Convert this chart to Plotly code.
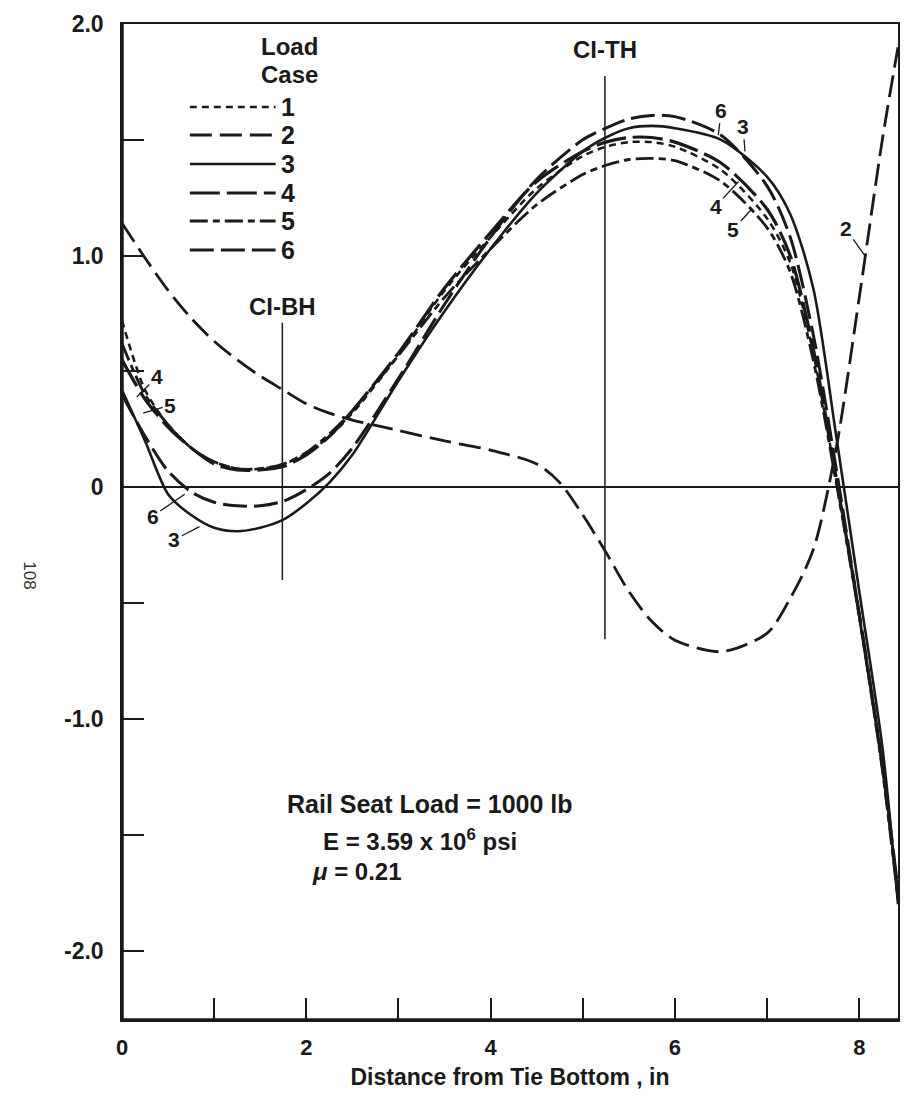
import plotly.graph_objects as go

# ---------------- data ----------------
x_common = [0, 0.25, 0.5, 0.75, 1.0, 1.25, 1.5, 1.75, 2.0, 2.25, 2.5, 3.0, 3.5,
            4.0, 4.5, 5.0, 5.25, 5.5, 5.75, 6.0, 6.5, 7.0, 7.25, 7.5, 7.75,
            8.0, 8.25, 8.42]

case1 = [0.72, 0.42, 0.27, 0.17, 0.11, 0.08, 0.08, 0.10, 0.145, 0.22, 0.32, 0.57, 0.85,
         1.08, 1.29, 1.43, 1.47, 1.49, 1.49, 1.47, 1.37, 1.16, 0.97, 0.58, 0.03,
         -0.55, -1.20, -1.76]
case3 = [0.42, 0.20, -0.03, -0.12, -0.175, -0.19, -0.175, -0.14, -0.07, 0.02, 0.14, 0.46, 0.76,
         1.03, 1.27, 1.45, 1.51, 1.55, 1.56, 1.55, 1.50, 1.34, 1.18, 0.86, 0.22,
         -0.45, -1.12, -1.80]
case4 = [0.55, 0.38, 0.26, 0.17, 0.10, 0.075, 0.075, 0.09, 0.14, 0.22, 0.33, 0.58, 0.86,
         1.10, 1.32, 1.45, 1.49, 1.51, 1.51, 1.49, 1.40, 1.20, 1.00, 0.60, 0.04,
         -0.55, -1.20, -1.74]
case5 = [0.62, 0.40, 0.27, 0.17, 0.11, 0.08, 0.08, 0.10, 0.15, 0.23, 0.33, 0.57, 0.82,
         1.03, 1.22, 1.35, 1.39, 1.415, 1.42, 1.41, 1.32, 1.12, 0.93, 0.55, 0.02,
         -0.56, -1.22, -1.78]
case6 = [0.40, 0.22, 0.07, -0.02, -0.065, -0.08, -0.08, -0.06, -0.01, 0.06, 0.17, 0.47, 0.79,
         1.08, 1.33, 1.50, 1.55, 1.59, 1.605, 1.60, 1.52, 1.30, 1.08, 0.66, 0.08,
         -0.55, -1.20, -1.76]

x_case2 = [0, 0.25, 0.5, 0.75, 1.0, 1.25, 1.5, 1.75, 2.0, 2.25, 2.5, 3.0, 3.5, 4.0,
           4.5, 4.75, 5.0, 5.25, 5.5, 5.75, 6.0, 6.5, 7.0, 7.25, 7.5, 7.75, 8.0,
           8.25, 8.42]
case2 = [1.14, 0.99, 0.85, 0.73, 0.63, 0.55, 0.48, 0.42, 0.36, 0.32, 0.29, 0.245, 0.20, 0.16,
         0.10, 0.02, -0.12, -0.28, -0.45, -0.58, -0.66, -0.71, -0.63, -0.48, -0.27, 0.17, 0.82,
         1.50, 1.90]

case_names = ["1", "2", "3", "4", "5", "6"]
section_x = [1.74, 5.24]           # CI-BH, CI-TH
section_names = ["CI-BH", "CI-TH"]
section_top = [0.71, 1.775]
section_bottom = [-0.40, -0.656]
section_label_y = [0.78, 1.89]

x_tickvals = [0, 2, 4, 6, 8]
x_ticktext = ["0", "2", "4", "6", "8"]
y_tickvals = [-2.0, -1.0, 0, 1.0, 2.0]
y_ticktext = ["-2.0", "-1.0", "0", "1.0", "2.0"]

# ---------------- styling ----------------
FONT = "Liberation Sans, Arial, sans-serif"
INK = "#1a1a1a"
def f(size, bold=True, color=INK):
    return dict(family=FONT, size=size, color=color, weight="bold" if bold else "normal")

styles = {
    "1": dict(dash="7px,5px", width=2.5),
    "2": dict(dash="22px,8px", width=2.8),
    "3": dict(dash="solid", width=2.6),
    "4": dict(dash="30px,7px", width=3.2),
    "5": dict(dash="18px,5px,7px,5px", width=2.8),
    "6": dict(dash="24px,7px", width=3.0),
}
series = {
    "1": (x_common, case1),
    "2": (x_case2, case2),
    "3": (x_common, case3),
    "4": (x_common, case4),
    "5": (x_common, case5),
    "6": (x_common, case6),
}

fig = go.Figure()
for name in case_names:
    xs, ys = series[name]
    fig.add_trace(go.Scatter(
        x=xs, y=ys, mode="lines", name=name, showlegend=False,
        line=dict(color=INK, shape="spline", smoothing=0.8, **styles[name]),
    ))

shapes = []
annotations = []

# section reference lines
for sx, st, sb, sn, ly in zip(section_x, section_top, section_bottom, section_names, section_label_y):
    shapes.append(dict(type="line", xref="x", yref="y", x0=sx, x1=sx, y0=sb, y1=st,
                       line=dict(color=INK, width=1.5)))
    annotations.append(dict(x=sx, y=ly, xref="x", yref="y", text=sn,
                            showarrow=False, yanchor="middle", xanchor="center",
                            font=f(24)))

# thick left & bottom axis lines
shapes.append(dict(type="line", xref="x domain", yref="y domain", x0=0, x1=0, y0=0, y1=1,
                   line=dict(color=INK, width=3.5)))
shapes.append(dict(type="line", xref="x domain", yref="y domain", x0=0, x1=1, y0=0, y1=0,
                   line=dict(color=INK, width=3.5)))

# page-pixel helpers (plot area: x 122..900, y 24..1020 in the page)
W_PLOT = 778.0
H_PLOT = 996.0
def px_x(p):
    return (p - 122) / W_PLOT
def px_y(p):
    return (1020 - p) / H_PLOT

# manual legend
legend_rows = [107, 135, 164, 193, 221, 250]
for name, row in zip(case_names, legend_rows):
    shapes.append(dict(type="line", xref="paper", yref="paper",
                       x0=px_x(190), x1=px_x(276), y0=px_y(row), y1=px_y(row),
                       line=dict(color=INK, width=styles[name]["width"],
                                 dash=styles[name]["dash"])))
    annotations.append(dict(x=px_x(279), y=px_y(row), xref="paper", yref="paper",
                            text=name, showarrow=False, xanchor="left", yanchor="middle",
                            font=f(25)))
for txt, row in zip(["Load", "Case"], [46, 75]):
    annotations.append(dict(x=px_x(290), y=px_y(row), xref="paper", yref="paper",
                            text=txt, showarrow=False, xanchor="center",
                            yanchor="middle", font=f(24)))

# curve labels with leaders: text, x, y (point on curve), ax, ay (pixel offset of text)
curve_labels = [
    ("4", 0.16, 0.39, 20, -20),
    ("5", 0.23, 0.32, 27, -8),
    ("6", 0.68, -0.03, -32, 22),
    ("3", 0.84, -0.17, -25, 13),
    ("6", 6.47, 1.52, 3, -25),
    ("3", 6.76, 1.45, -2, -25),
    ("4", 6.69, 1.32, -23, 25),
    ("5", 6.83, 1.20, -18, 20),
    ("2", 8.06, 1.00, -19, -27),
]
for t, lx, ly, ax, ay in curve_labels:
    annotations.append(dict(x=lx, y=ly, xref="x", yref="y", text=t, showarrow=True,
                            arrowhead=0, arrowwidth=1.3, arrowcolor=INK,
                            ax=ax, ay=ay, standoff=0, font=f(21)))

# parameter text block
annotations.append(dict(x=px_x(285), y=px_y(804), xref="paper", yref="paper",
                        text="Rail Seat Load = 1000 lb", showarrow=False,
                        xanchor="left", yanchor="middle", font=f(25)))
annotations.append(dict(x=px_x(322), y=px_y(840), xref="paper", yref="paper",
                        text="E = 3.59 x 10<sup>6</sup> psi", showarrow=False,
                        xanchor="left", yanchor="middle", font=f(24)))
annotations.append(dict(x=px_x(310), y=px_y(871), xref="paper", yref="paper",
                        text="<i>μ</i> = 0.21", showarrow=False,
                        xanchor="left", yanchor="middle", font=f(24)))

# page number
annotations.append(dict(x=px_x(18), y=px_y(575), xref="paper", yref="paper",
                        text="108", showarrow=False, textangle=90,
                        font=f(17, bold=False, color="#333333")))

# Page has an 8px body margin: figure spans 8..902 x 8..1095 of the 910x1103 window.
fig.update_layout(
    width=894, height=1087,
    margin=dict(l=114, r=2, t=16, b=75),
    paper_bgcolor="white", plot_bgcolor="white",
    font=f(22),
    shapes=shapes, annotations=annotations,
    showlegend=False,
)
fig.update_xaxes(
    range=[0, 8.42], showgrid=False, zeroline=False,
    showline=True, mirror=True, linecolor=INK, linewidth=1.5,
    ticks="inside", ticklen=22, tickwidth=1.5, tickcolor=INK,
    tickvals=x_tickvals, ticktext=x_ticktext, ticklabelstandoff=7,
    tickfont=f(22),
    minor=dict(dtick=1, tick0=0, ticks="inside", ticklen=22, tickwidth=1.5, tickcolor=INK),
    title=dict(text="Distance from Tie Bottom , in", standoff=10, font=f(23)),
)
fig.update_yaxes(
    range=[-2.3, 2.0], showgrid=False,
    zeroline=True, zerolinecolor=INK, zerolinewidth=1.5,
    showline=True, mirror=True, linecolor=INK, linewidth=1.5,
    ticks="inside", ticklen=22, tickwidth=1.5, tickcolor=INK,
    tickvals=y_tickvals, ticktext=y_ticktext, ticklabelstandoff=12,
    tickfont=f(23),
    minor=dict(dtick=0.5, tick0=0, ticks="inside", ticklen=22, tickwidth=1.5, tickcolor=INK),
)

fig.write_html("out.html")
